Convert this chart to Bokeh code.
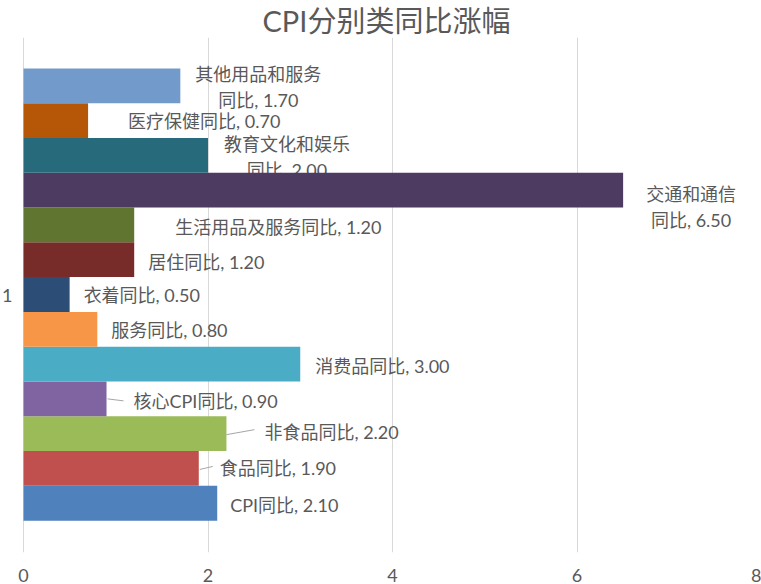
from bokeh.plotting import figure
from bokeh.models import ColumnDataSource, Range1d, FixedTicker
from bokeh.core.properties import value
from bokeh.embed import file_html
from bokeh.resources import INLINE

# ---------------- data ----------------
names = ["CPI同比", "食品同比", "非食品同比", "核心CPI同比", "消费品同比", "服务同比",
         "衣着同比", "居住同比", "生活用品及服务同比", "交通和通信同比",
         "教育文化和娱乐同比", "医疗保健同比", "其他用品和服务同比"]
values = [2.10, 1.90, 2.20, 0.90, 3.00, 0.80, 0.50, 1.20, 1.20, 6.50, 2.00, 0.70, 1.70]
x_ticks = [0, 2, 4, 6, 8]
category_label = ["1"]
title_text = "CPI分别类同比涨幅"

# ---------------- style / layout ----------------
colors = ["#4F81BD", "#C0504D", "#9BBB59", "#8064A2", "#4BACC6", "#F79646",
          "#2C4D75", "#772C2A", "#5F7530", "#4D3B62", "#276A7C", "#B65708", "#729ACA"]
label_break = [None] * 9 + [5, 7, None, 7]
label_dx = [13, 21, 38, 27, 15, 14, 14, 14, 41, 68, 79, 40, 78]
label_dy = [2, 0, -2, 2, 2, 1, 0, 2, 2, 17, 1.5, 0.5, 1.5]
# leader lines: index -> (dx0, dy0, dx1, dy1) in pixels from bar end / bar centre
leaders = {1: (1, 1, 14, -2), 2: (0, 1, 28, -4), 3: (1, 0, 17, 2)}

FONT = "Lato, 'Noto Sans CJK SC'"
GREY = "#595959"
W, H = 761, 584
ZERO_PX = 23                      # pixel position of value 0 from the left edge
TOP, BOTTOM = 35, 32
FRAME_W, FRAME_H = W, H - TOP - BOTTOM
X_END = 8
ppx = (W - ZERO_PX) / X_END
X_START = -ZERO_PX / ppx
Y_LO, Y_HI = -1.416, 13.388
ppy = FRAME_H / (Y_HI - Y_LO)

n = len(values)
ys = list(range(n))
y_mid = (Y_LO + Y_HI) / 2

p = figure(width=W, height=H, output_backend="svg", toolbar_location=None,
           x_range=Range1d(X_START, X_END), y_range=Range1d(Y_LO, Y_HI),
           y_axis_location=None,
           min_border_left=0, min_border_right=0,
           min_border_top=TOP, min_border_bottom=BOTTOM, title=title_text)
p.outline_line_color = None
p.title.align = "left"
p.title.vertical_align = "bottom"
p.title.text_font = FONT
p.title.text_font_size = "29px"
p.title.text_font_style = "normal"
p.title.text_color = GREY
p.title.text_line_height = 0.6
p.title.standoff = 0
p.title.offset = 262

p.xgrid.ticker = FixedTicker(ticks=x_ticks)
p.xgrid.grid_line_color = "#d9d9d9"
p.ygrid.visible = False

ax = p.xaxis[0]
ax.ticker = FixedTicker(ticks=x_ticks)
ax.axis_line_color = None
ax.major_tick_line_color = None
ax.minor_tick_line_color = None
ax.major_label_text_font = FONT
ax.major_label_text_font_size = "18px"
ax.major_label_text_color = GREY
ax.major_label_standoff = 10

# category-axis label (the single category "1"), left of the zero line
p.text(x=[0], y=[y_mid], text=category_label, x_offset=-11, text_align="right",
       text_baseline="middle", text_font=value(FONT), text_font_size=value("18px"),
       text_color=GREY)


def label(i):
    nm = names[i]
    b = label_break[i]
    v = f"{values[i]:.2f}"
    if b:
        return nm[:b] + "\n" + nm[b:] + ", " + v
    return nm + ", " + v


def src(idx):
    return ColumnDataSource(dict(
        x=[values[i] for i in idx], y=[ys[i] for i in idx],
        text=[label(i) for i in idx],
        dx=[label_dx[i] for i in idx], dy=[label_dy[i] for i in idx]))


multi = [i for i in range(n) if label_break[i]]
single = [i for i in range(n) if not label_break[i]]

# multi-line labels drawn first (bars overlap them as in the original)
p.text(x="x", y="y", text="text", source=src(multi), x_offset="dx", y_offset="dy",
       text_align="center", text_baseline="middle", text_font=value(FONT),
       text_font_size=value("18px"), text_color=GREY, text_line_height=1.2)

bars = ColumnDataSource(dict(y=ys, v=values, c=colors))
p.hbar(y="y", left=0, right="v", height=1.0, fill_color="c", line_color=None, source=bars)

p.text(x="x", y="y", text="text", source=src(single), x_offset="dx", y_offset="dy",
       text_align="left", text_baseline="middle", text_font=value(FONT),
       text_font_size=value("18px"), text_color=GREY)

lx0, ly0, lx1, ly1 = [], [], [], []
for i, (a, b, c, d) in leaders.items():
    lx0.append(values[i] + a / ppx)
    ly0.append(ys[i] - b / ppy)
    lx1.append(values[i] + c / ppx)
    ly1.append(ys[i] - d / ppy)
p.segment(x0=lx0, y0=ly0, x1=lx1, y1=ly1, line_color="#a6a6a6", line_width=1)

open("out.html", "w").write(file_html(p, INLINE))
